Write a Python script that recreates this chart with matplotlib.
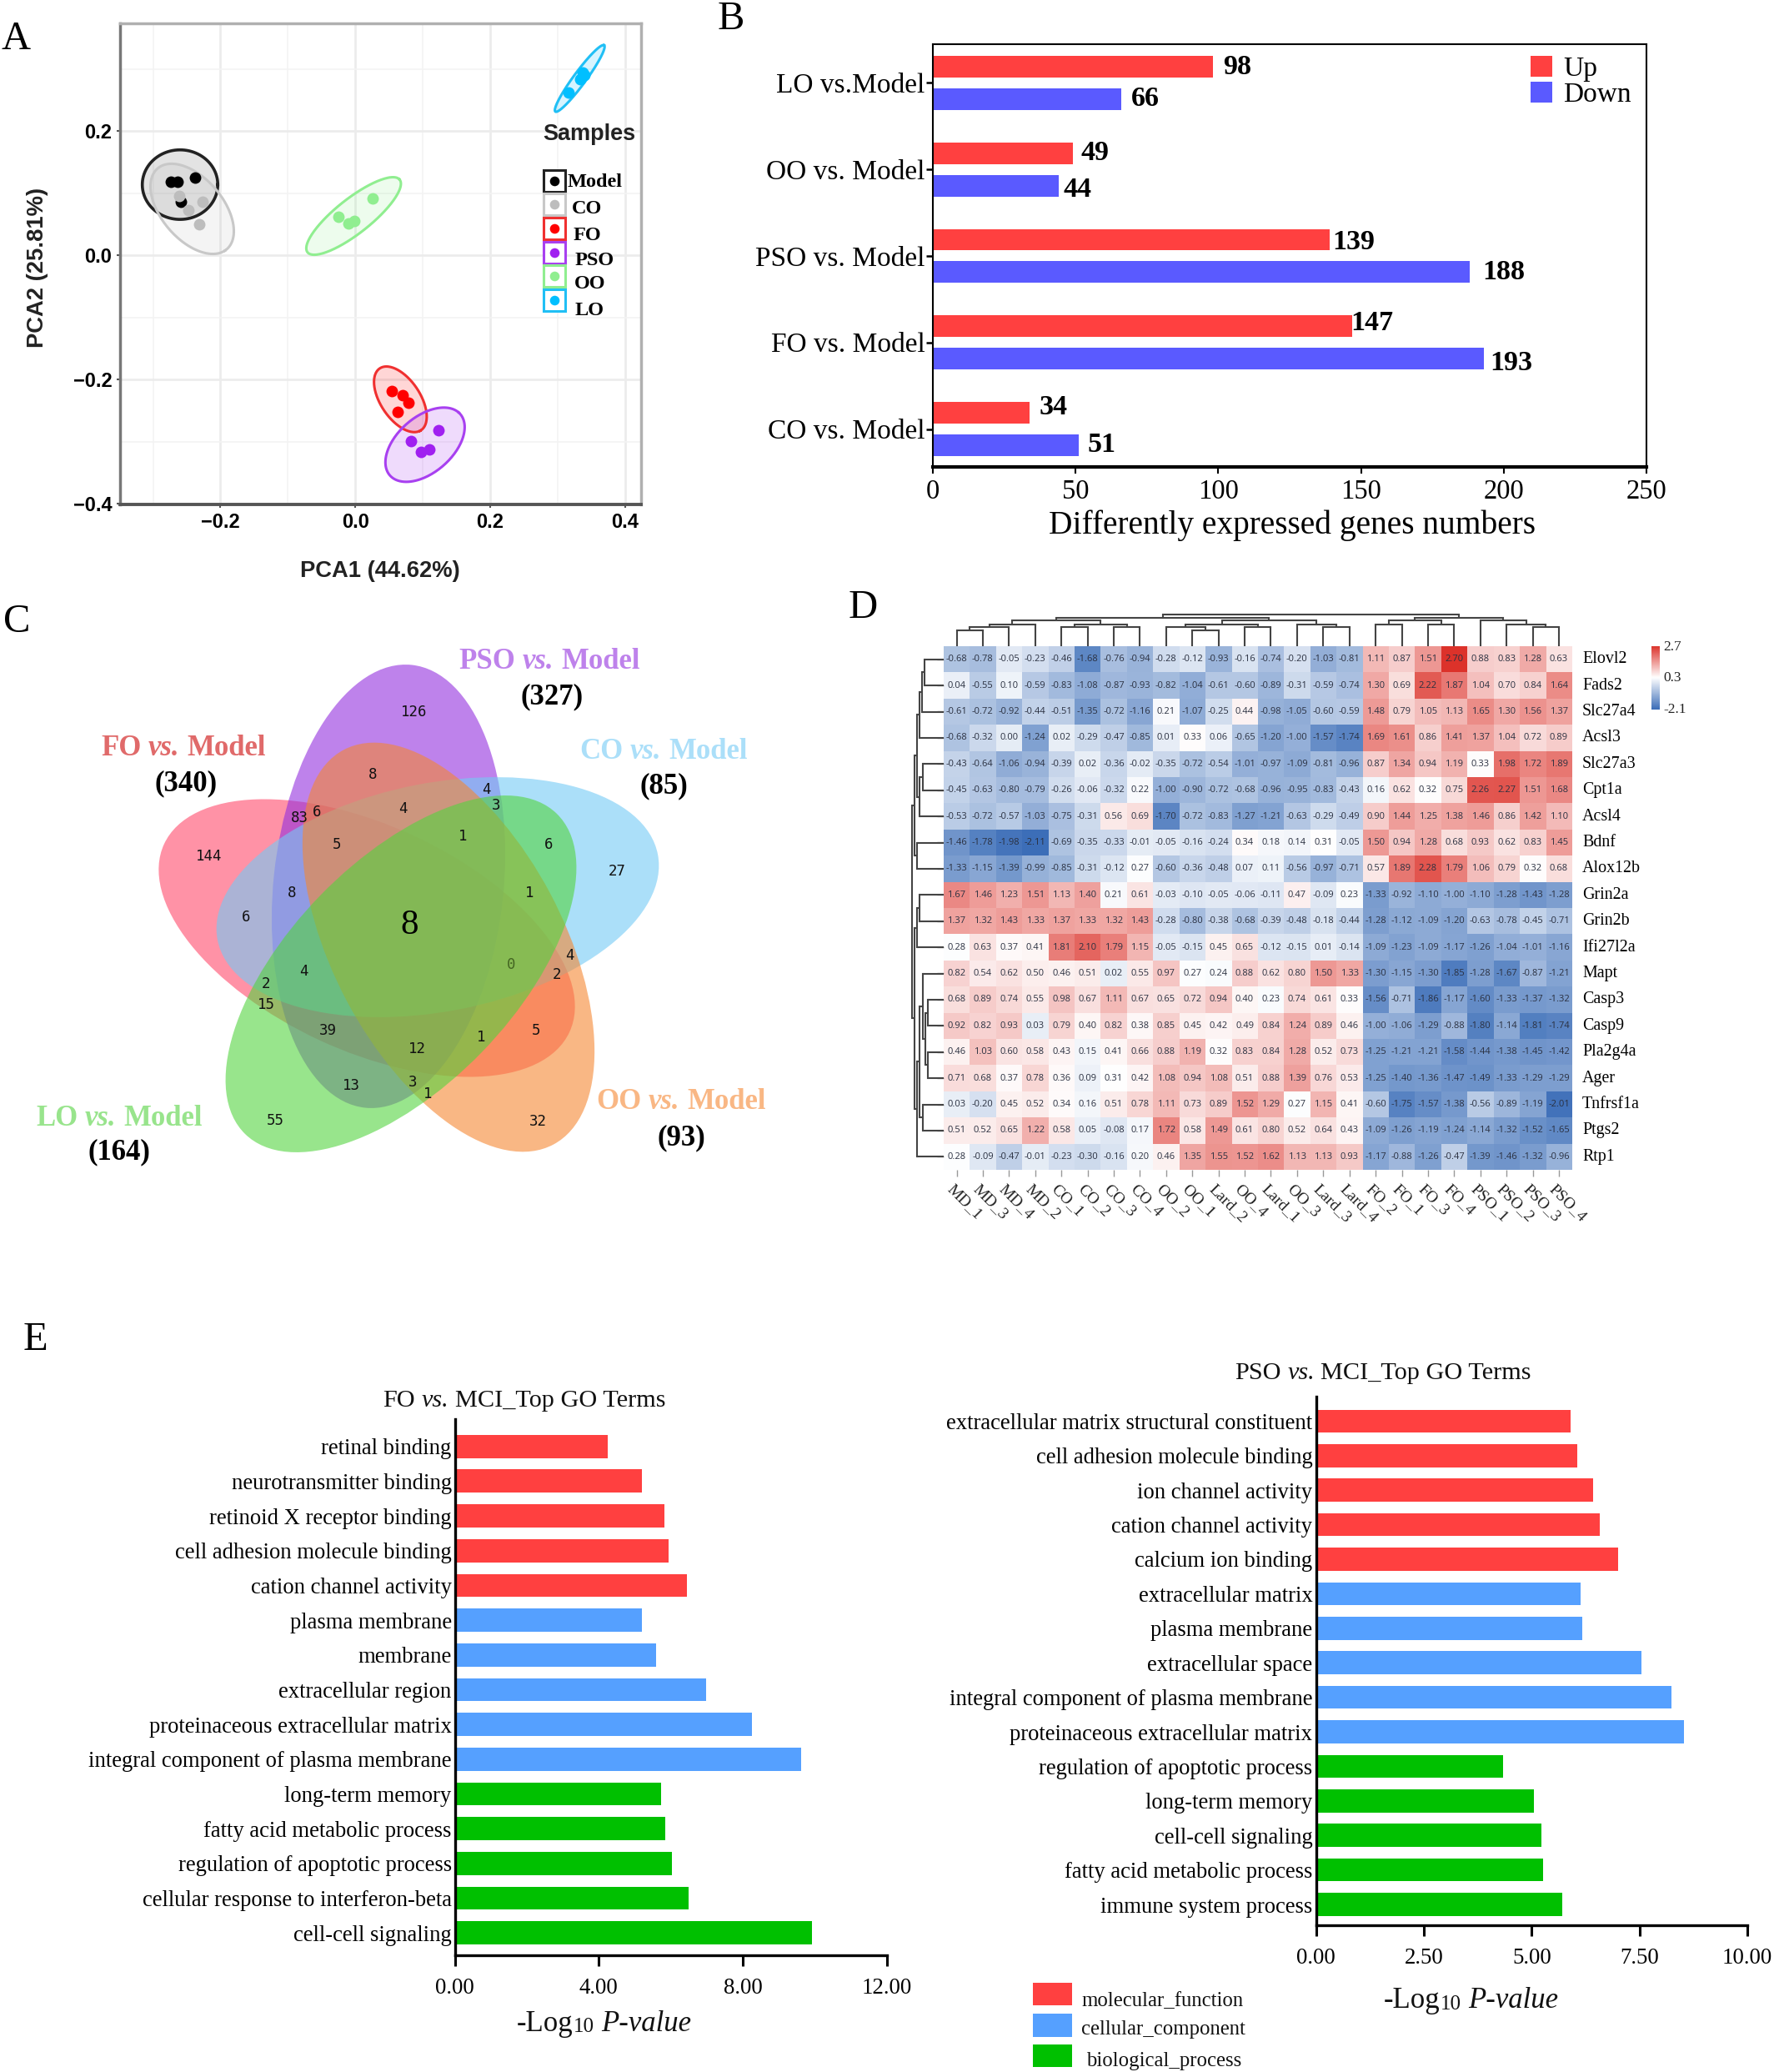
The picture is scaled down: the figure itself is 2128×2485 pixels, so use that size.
import numpy as np
import matplotlib
matplotlib.use("Agg")
import matplotlib.pyplot as plt
from matplotlib.colors import LinearSegmentedColormap, Normalize
from matplotlib.patches import Ellipse, Rectangle

W, H = 2128, 2485
SERIF = "Liberation Serif"
SANS = "Liberation Sans"
plt.rcParams["font.family"] = SERIF

# ---------- Panel A data ----------
pca_groups = ["Model", "CO", "FO", "PSO", "OO", "LO"]
pca_x = {
    "Model": [-0.273, -0.264, -0.238, -0.259],
    "CO": [-0.261, -0.226, -0.248, -0.231],
    "FO": [0.054, 0.070, 0.079, 0.063],
    "PSO": [0.083, 0.098, 0.110, 0.123],
    "OO": [-0.025, -0.010, -0.002, 0.026],
    "LO": [0.316, 0.334, 0.338, 0.340],
}
pca_y = {
    "Model": [0.119, 0.119, 0.125, 0.087],
    "CO": [0.096, 0.087, 0.073, 0.050],
    "FO": [-0.218, -0.225, -0.237, -0.252],
    "PSO": [-0.299, -0.317, -0.312, -0.281],
    "OO": [0.062, 0.052, 0.056, 0.092],
    "LO": [0.262, 0.284, 0.294, 0.290],
}
pca_colors = {"Model": "#000000", "CO": "#BDBDBD", "FO": "#FF0000",
              "PSO": "#A020F0", "OO": "#90EE90", "LO": "#00BFFF"}
pca_edge = {"Model": "#222222", "CO": "#C8C8C8", "FO": "#F03030",
            "PSO": "#A840F0", "OO": "#90EE90", "LO": "#20BFF5"}
# ellipse: centre x, centre y, semi-major, semi-minor, angle (deg in data space)
pca_ell = {
    "CO": (-0.242, 0.075, 0.083, 0.047, -54),
    "Model": (-0.260, 0.114, 0.056, 0.056, 0),
    "OO": (-0.0025, 0.0635, 0.090, 0.027, 41),
    "LO": (0.333, 0.285, 0.0645, 0.0095, 56),
    "FO": (0.0669, -0.2317, 0.0585, 0.030, -60),
    "PSO": (0.1035, -0.3048, 0.072, 0.043, 46),
}

# ---------- Panel B data ----------
deg_cats = ["CO vs. Model", "FO vs. Model", "PSO vs. Model", "OO vs. Model", "LO vs.Model"]
deg_up = [34, 147, 139, 49, 98]
deg_down = [51, 193, 188, 44, 66]
deg_up_dx = [3.4, -0.6, 1.0, 2.7, 3.7]
deg_up_dy = [0.06, 0.04, -0.03, 0.0, -0.01]
deg_down_dx = [3.2, 2.2, 4.4, 1.7, 3.5]
deg_down_dy = [0.0, -0.05, 0.0, -0.05, 0.0]

# ---------- Panel C data ----------
venn_names = ["FO", "PSO", "CO", "OO", "LO"]
venn_cx = [440, 466, 525, 538, 481]
venn_cy = [1125, 1063, 1076, 1136, 1168]
venn_a = [268, 267, 269, 268, 268]
venn_b = [135, 138, 137, 138, 135]
venn_angle = [-24.9, 84, 11, -62, 45.8]
venn_colors = ["#FF496B", "#932FDE", "#73CAF5", "#F58732", "#53D43F"]
venn_counts = ["126", "8", "4", "3", "6", "83", "4", "1", "5", "6", "27", "144", "8", "1", "6",
               "4", "0", "4", "2", "2", "15", "39", "5", "1", "12", "13", "3", "1", "55", "32"]
venn_zx = [680, 583, 850, 873, 451, 410, 654, 795, 498, 996, 1157, 197, 392, 951, 285,
           421, 909, 1045, 1015, 332, 333, 478, 966, 838, 688, 532, 677, 712, 353, 972]
venn_zy = [224, 406, 450, 498, 517, 535, 507, 588, 612, 612, 690, 648, 754, 754, 825,
           985, 966, 938, 995, 1022, 1083, 1160, 1160, 1178, 1214, 1320, 1312, 1345, 1425, 1426]
venn_labels = [("FO", "(340)", 220, 895, 223, 937, "#E06A6A"),
               ("PSO", "(327)", 659, 790, 662, 833, "#BE82EB"),
               ("CO", "(85)", 796, 898, 796, 940, "#ABDFF9"),
               ("LO", "(164)", 143, 1338, 143, 1379, "#98E48C"),
               ("OO", "(93)", 817, 1319, 817, 1362, "#F9B784")]

# ---------- Panel D data ----------
genes = ["Elovl2", "Fads2", "Slc27a4", "Acsl3", "Slc27a3", "Cpt1a", "Acsl4", "Bdnf", "Alox12b", "Grin2a",
         "Grin2b", "Ifi27l2a", "Mapt", "Casp3", "Casp9", "Pla2g4a", "Ager", "Tnfrsf1a", "Ptgs2", "Rtp1"]
samples = ["MD_1", "MD_3", "MD_4", "MD_2", "CO_1", "CO_2", "CO_3", "CO_4",
           "OO_2", "OO_1", "Lard_2", "OO_4", "Lard_1", "OO_3", "Lard_3", "Lard_4",
           "FO_2", "FO_1", "FO_3", "FO_4", "PSO_1", "PSO_2", "PSO_3", "PSO_4"]
expr = np.array([
 [-0.68,-0.78,-0.05,-0.23,-0.46,-1.68,-0.76,-0.94,-0.28,-0.12,-0.93,-0.16,-0.74,-0.20,-1.03,-0.81,1.11,0.87,1.51,2.70,0.88,0.83,1.28,0.63],
 [0.04,-0.55,0.10,-0.59,-0.83,-1.08,-0.87,-0.93,-0.82,-1.04,-0.61,-0.60,-0.89,-0.31,-0.59,-0.74,1.30,0.69,2.22,1.87,1.04,0.70,0.84,1.64],
 [-0.61,-0.72,-0.92,-0.44,-0.51,-1.35,-0.72,-1.16,0.21,-1.07,-0.25,0.44,-0.98,-1.05,-0.60,-0.59,1.48,0.79,1.05,1.13,1.65,1.30,1.56,1.37],
 [-0.68,-0.32,0.00,-1.24,0.02,-0.29,-0.47,-0.85,0.01,0.33,0.06,-0.65,-1.20,-1.00,-1.57,-1.74,1.69,1.61,0.86,1.41,1.37,1.04,0.72,0.89],
 [-0.43,-0.64,-1.06,-0.94,-0.39,0.02,-0.36,-0.02,-0.35,-0.72,-0.54,-1.01,-0.97,-1.09,-0.81,-0.96,0.87,1.34,0.94,1.19,0.33,1.98,1.72,1.89],
 [-0.45,-0.63,-0.80,-0.79,-0.26,-0.06,-0.32,0.22,-1.00,-0.90,-0.72,-0.68,-0.96,-0.95,-0.83,-0.43,0.16,0.62,0.32,0.75,2.26,2.27,1.51,1.68],
 [-0.53,-0.72,-0.57,-1.03,-0.75,-0.31,0.56,0.69,-1.70,-0.72,-0.83,-1.27,-1.21,-0.63,-0.29,-0.49,0.90,1.44,1.25,1.38,1.46,0.86,1.42,1.10],
 [-1.46,-1.78,-1.98,-2.11,-0.69,-0.35,-0.33,-0.01,-0.05,-0.16,-0.24,0.34,0.18,0.14,0.31,-0.05,1.50,0.94,1.28,0.68,0.93,0.62,0.83,1.45],
 [-1.33,-1.15,-1.39,-0.99,-0.85,-0.31,-0.12,0.27,-0.60,-0.36,-0.48,0.07,0.11,-0.56,-0.97,-0.71,0.57,1.89,2.28,1.79,1.06,0.79,0.32,0.68],
 [1.67,1.46,1.23,1.51,1.13,1.40,0.21,0.61,-0.03,-0.10,-0.05,-0.06,-0.11,0.47,-0.09,0.23,-1.33,-0.92,-1.10,-1.00,-1.10,-1.28,-1.43,-1.28],
 [1.37,1.32,1.43,1.33,1.37,1.33,1.32,1.43,-0.28,-0.80,-0.38,-0.68,-0.39,-0.48,-0.18,-0.44,-1.28,-1.12,-1.09,-1.20,-0.63,-0.78,-0.45,-0.71],
 [0.28,0.63,0.37,0.41,1.81,2.10,1.79,1.15,-0.05,-0.15,0.45,0.65,-0.12,-0.15,0.01,-0.14,-1.09,-1.23,-1.09,-1.17,-1.26,-1.04,-1.01,-1.16],
 [0.82,0.54,0.62,0.50,0.46,0.51,0.02,0.55,0.97,0.27,0.24,0.88,0.62,0.80,1.50,1.33,-1.30,-1.15,-1.30,-1.85,-1.28,-1.67,-0.87,-1.21],
 [0.68,0.89,0.74,0.55,0.98,0.67,1.11,0.67,0.65,0.72,0.94,0.40,0.23,0.74,0.61,0.33,-1.56,-0.71,-1.86,-1.17,-1.60,-1.33,-1.37,-1.32],
 [0.92,0.82,0.93,0.03,0.79,0.40,0.82,0.38,0.85,0.45,0.42,0.49,0.84,1.24,0.89,0.46,-1.00,-1.06,-1.29,-0.88,-1.80,-1.14,-1.81,-1.74],
 [0.46,1.03,0.60,0.58,0.43,0.15,0.41,0.66,0.88,1.19,0.32,0.83,0.84,1.28,0.52,0.73,-1.25,-1.21,-1.21,-1.58,-1.44,-1.38,-1.45,-1.42],
 [0.71,0.68,0.37,0.78,0.36,0.09,0.31,0.42,1.08,0.94,1.08,0.51,0.88,1.39,0.76,0.53,-1.25,-1.40,-1.36,-1.47,-1.49,-1.33,-1.29,-1.29],
 [0.03,-0.20,0.45,0.52,0.34,0.16,0.51,0.78,1.11,0.73,0.89,1.52,1.29,0.27,1.15,0.41,-0.60,-1.75,-1.57,-1.38,-0.56,-0.89,-1.19,-2.01],
 [0.51,0.52,0.65,1.22,0.58,0.05,-0.08,0.17,1.72,0.58,1.49,0.61,0.80,0.52,0.64,0.43,-1.09,-1.26,-1.19,-1.24,-1.14,-1.32,-1.52,-1.65],
 [0.28,-0.09,-0.47,-0.01,-0.23,-0.30,-0.16,0.20,0.46,1.35,1.55,1.52,1.62,1.13,1.13,0.93,-1.17,-0.88,-1.26,-0.47,-1.39,-1.46,-1.32,-0.96],
])
# dendrogram merges: (node a, node b, height); leaves are 0..n-1, internal nodes n, n+1, ...
col_tree = [(0,1,19),(24,2,22.7),(25,3,26.3),(4,5,22.7),(6,7,22.7),(27,28,26.3),(26,29,30.7),
            (9,10,19),(8,31,22.7),(11,12,22.7),(32,33,26.3),(14,15,22.7),(13,35,26.3),(34,36,30.7),
            (30,37,34.3),(16,17,26.3),(18,19,26.3),(39,40,30.7),(22,23,22.7),(21,42,26.3),(20,43,30.7),
            (41,44,34.3),(38,45,38.3)]
row_tree = [(0,1,22.9),(20,2,25.7),(21,3,28.6),(4,5,25),(23,6,28.6),(22,24,31.8),(7,8,31.8),(25,26,34.6),
            (9,10,28.6),(28,11,31.8),(13,14,19.3),(15,16,19.3),(30,31,22),(12,32,25),(17,18,25),(33,34,28.6),
            (35,19,31.8),(29,36,34.6),(27,37,37.5)]

# ---------- Panel E data ----------
go_colors = ["#FF4040"] * 5 + ["#55A0FF"] * 5 + ["#00C000"] * 5
fo_terms = ["retinal binding", "neurotransmitter binding", "retinoid X receptor binding",
            "cell adhesion molecule binding", "cation channel activity", "plasma membrane", "membrane",
            "extracellular region", "proteinaceous extracellular matrix", "integral component of plasma membrane",
            "long-term memory", "fatty acid metabolic process", "regulation of apoptotic process",
            "cellular response to interferon-beta", "cell-cell signaling"]
fo_vals = [4.24, 5.19, 5.82, 5.93, 6.46, 5.19, 5.59, 6.99, 8.26, 9.63, 5.74, 5.84, 6.02, 6.49, 9.92]
pso_terms = ["extracellular matrix structural constituent", "cell adhesion molecule binding", "ion channel activity",
             "cation channel activity", "calcium ion binding", "extracellular matrix", "plasma membrane",
             "extracellular space", "integral component of plasma membrane", "proteinaceous extracellular matrix",
             "regulation of apoptotic process", "long-term memory", "cell-cell signaling",
             "fatty acid metabolic process", "immune system process"]
pso_vals = [5.91, 6.06, 6.43, 6.58, 7.00, 6.13, 6.18, 7.54, 8.25, 8.53, 4.33, 5.06, 5.23, 5.26, 5.72]
go_legend = ["molecular_function", "cellular_component", "biological_process"]
go_legend_colors = ["#FF4040", "#55A0FF", "#00C000"]

# ---------- helpers ----------
fig = plt.figure(figsize=(W / 100, H / 100), dpi=100, facecolor="white")


def axpx(l, t, r, b, **kw):
    return fig.add_axes([l / W, 1 - b / H, (r - l) / W, (b - t) / H], **kw)


ov = fig.add_axes([0, 0, 1, 1], zorder=10)
ov.set_xlim(0, W)
ov.set_ylim(H, 0)
ov.axis("off")
ov.patch.set_alpha(0)
renderer = fig.canvas.get_renderer()


def rich(x, y, pieces, gap=0.25, ha="center", **common):
    """Consecutive text runs on a line; pieces are (string, kwargs)."""
    ts, ws = [], []
    for s, kw in pieces:
        k = dict(common)
        k.update(kw)
        t = ov.text(0, y, s, ha="left", va="center", **k)
        ts.append(t)
        ws.append(t.get_window_extent(renderer).width)
    size = common.get("fontsize", 20) * 100 / 72
    total = sum(ws) + gap * size * (len(ws) - 1)
    cur = x - total / 2 if ha == "center" else x
    for t, w in zip(ts, ws):
        t.set_x(cur)
        cur += w + gap * size


for letter, lx, ly in [("A", 19, 44), ("B", 877, 20), ("C", 20, 743), ("D", 1035, 726), ("E", 42, 1604)]:
    ov.text(lx, ly, letter, fontsize=35, ha="center", va="center", color="black")

# ---------- Panel A ----------
a = axpx(144, 28, 769, 605)
a.set_xlim(-0.349, 0.424)
a.set_ylim(-0.401, 0.3737)
a.set_xticks([-0.2, 0.0, 0.2, 0.4])
a.set_xticks([-0.3, -0.1, 0.1, 0.3], minor=True)
a.set_yticks([-0.4, -0.2, 0.0, 0.2])
a.set_yticks([-0.3, -0.1, 0.1, 0.3], minor=True)
a.grid(True, which="major", color="#ECECEC", lw=2.0)
a.grid(True, which="minor", color="#F3F3F3", lw=1.2)
a.set_axisbelow(True)
a.tick_params(which="minor", length=0)
a.tick_params(which="major", length=3, width=1.5, color="#555555", pad=4)
for lab in a.get_xticklabels() + a.get_yticklabels():
    lab.set_fontfamily(SANS)
    lab.set_fontweight("bold")
    lab.set_fontsize(17)
for side, col, lw in [("top", "#B0B0B0", 2.5), ("right", "#B0B0B0", 2.5), ("left", "#777777", 2.5), ("bottom", "#555555", 2.8)]:
    a.spines[side].set_color(col)
    a.spines[side].set_linewidth(lw)
t_par = np.linspace(0, 2 * np.pi, 200)
for g in ["Model", "CO", "OO", "LO", "FO", "PSO"]:
    cx, cy, sa, sb, ang = pca_ell[g]
    th = np.deg2rad(ang)
    ex = cx + sa * np.cos(t_par) * np.cos(th) - sb * np.sin(t_par) * np.sin(th)
    ey = cy + sa * np.cos(t_par) * np.sin(th) + sb * np.sin(t_par) * np.cos(th)
    a.fill(ex, ey, color=pca_colors[g], alpha=0.11 if g == "Model" else 0.16, lw=0)
    a.plot(ex, ey, color=pca_edge[g], lw=2.6 if g == "Model" else 2.2)
for g in pca_groups:
    a.scatter(pca_x[g], pca_y[g], s=100, color=pca_colors[g], zorder=5, lw=0)
ov.text(456, 682, "PCA1 (44.62%)", fontfamily=SANS, fontweight="bold", fontsize=19.7, ha="center", va="center", color="#222222")
ov.text(45, 318, "PCA2 (25.81%)", fontfamily=SANS, fontweight="bold", fontsize=19.7, ha="center", va="center", rotation=90, color="#222222")
ov.text(707, 158, "Samples", fontfamily=SANS, fontweight="bold", fontsize=19.5, ha="center", va="center", color="#222222")
key_y = [216.5, 245, 274, 303, 331, 360]
lab_x = [681, 686, 687.5, 689.5, 688.5, 690]
lab_y = [215.6, 248, 280, 309, 337, 369.6]
for g, ky, lx, ly in zip(pca_groups, key_y, lab_x, lab_y):
    ov.add_patch(Rectangle((652, ky - 13), 26, 26, fc="white", ec=pca_edge[g], lw=2.2))
    ov.scatter([665], [ky], s=70, color=pca_colors[g], lw=0, zorder=12)
    ov.text(lx, ly, g, fontweight="bold", fontsize=17.5, ha="left", va="center", color="black")

# ---------- Panel B ----------
b = axpx(1119, 52.6, 1975, 560)
ypos = np.arange(len(deg_cats))
b.barh(ypos + 0.187, deg_up, height=0.25, color="#FF4040")
b.barh(ypos - 0.187, deg_down, height=0.25, color="#5A5AFF")
b.set_xlim(0, 250)
b.set_ylim(-0.438, 4.45)
b.set_yticks(ypos)
b.set_yticklabels(deg_cats, fontsize=24)
b.set_xticks([0, 50, 100, 150, 200, 250])
b.tick_params(axis="x", labelsize=23.5, length=6, width=1.5, pad=4.5)
b.tick_params(axis="y", length=6, width=1.8, pad=1)
for s in b.spines.values():
    s.set_linewidth(1.5)
b.spines["bottom"].set_linewidth(3)
for i in ypos:
    b.text(deg_up[i] + deg_up_dx[i], i + 0.187 + deg_up_dy[i], str(deg_up[i]), fontweight="bold", fontsize=24.5, va="center", ha="left")
    b.text(deg_down[i] + deg_down_dx[i], i - 0.187 + deg_down_dy[i], str(deg_down[i]), fontweight="bold", fontsize=24.5, va="center", ha="left")
ov.text(1550, 627, "Differently expressed genes numbers", fontsize=28.4, ha="center", va="center")
for lab, col, y0 in [("Up", "#FF4040", 67), ("Down", "#5A5AFF", 98)]:
    ov.add_patch(Rectangle((1836, y0), 26, 25, fc=col, ec="none"))
    ov.text(1875, y0 + 13, lab, fontsize=24, ha="left", va="center")

# ---------- Panel C ----------
for cx, cy, sa, sb, ang, col in zip(venn_cx, venn_cy, venn_a, venn_b, venn_angle, venn_colors):
    # overlay y points down, so a counter-clockwise screen angle is a negative Ellipse angle
    ov.add_patch(Ellipse((cx, cy), 2 * sa, 2 * sb, angle=-ang, fc=col, ec="none", alpha=0.6))
for s, zx, zy in zip(venn_counts, venn_zx, venn_zy):
    ov.text(150 + 0.51 * zx, 760 + 0.408 * zy, s, fontfamily="DejaVu Sans Mono", fontsize=12.5,
            ha="center", va="center", color="#111111" if s != "0" else "#446622")
ov.text(150 + 0.51 * 668, 760 + 0.408 * 850, "8", fontsize=31, ha="center", va="center", color="black")
for name, n, x1, y1, x2, y2, col in venn_labels:
    rich(x1, y1, [(name, dict(fontweight="bold")), ("vs.", dict(fontweight="bold", fontstyle="italic")), ("Model", dict(fontweight="bold"))],
         fontsize=25, color=col)
    ov.text(x2, y2, n, fontweight="bold", fontsize=25, ha="center", va="center", color="black")

# ---------- Panel D ----------
hl, ht, hr, hb = 1131.8, 775, 1885.7, 1403
cmap = LinearSegmentedColormap.from_list("hm", [(0, "#3C6EB8"), (0.5, "#FFFFFF"), (1, "#DC322A")])
norm = Normalize(-2.1, 2.7)
d = axpx(hl, ht, hr, hb)
d.imshow(expr, cmap=cmap, norm=norm, aspect="auto", interpolation="nearest")
nr, nc = expr.shape
for r in range(nr):
    for c in range(nc):
        d.text(c, r, f"{expr[r, c]:.2f}", fontfamily="Open Sans", fontsize=8, ha="center", va="center", color="#2A3040")
d.set_xticks(np.arange(nc))
d.set_xticklabels([])
d.set_yticks(np.arange(nr))
d.set_yticklabels([])
d.tick_params(length=6, width=1, color="#999999")
for s in d.spines.values():
    s.set_visible(False)
cw, ch = (hr - hl) / nc, (hb - ht) / nr
for i, g in enumerate(genes):
    ov.text(1898, ht + ch * (i + 0.5) - 3, g, fontsize=14.4, ha="left", va="center")
for i, s in enumerate(samples):
    ov.text(hl + cw * (i + 0.5) - 9, 1420, s, fontsize=14, rotation=-45, rotation_mode="anchor",
            ha="left", va="center", color="#222222")


def dendro(tree, n, horizontal):
    pos = {i: (i + 0.5) for i in range(n)}
    hgt = {i: 0.0 for i in range(n)}
    nxt = n
    for p, q, h in tree:
        for node in (p, q):
            if horizontal:
                xs = [hl - hgt[node], hl - h]
                ys = [ht + ch * pos[node]] * 2
            else:
                xs = [hl + cw * pos[node]] * 2
                ys = [ht - hgt[node], ht - h]
            ov.plot(xs, ys, color="#444444", lw=1.5, solid_capstyle="butt")
        if horizontal:
            ov.plot([hl - h, hl - h], [ht + ch * pos[p], ht + ch * pos[q]], color="#444444", lw=1.5)
        else:
            ov.plot([hl + cw * pos[p], hl + cw * pos[q]], [ht - h, ht - h], color="#444444", lw=1.5)
        pos[nxt] = (pos[p] + pos[q]) / 2
        hgt[nxt] = h
        nxt += 1


dendro(col_tree, nc, False)
dendro(row_tree, nr, True)
cb = axpx(1981, 775, 1991, 851)
cb.imshow(np.linspace(2.7, -2.1, 100)[:, None], cmap=cmap, norm=norm, aspect="auto")
cb.axis("off")
for v, yy in [("2.7", 773), ("0.3", 810), ("-2.1", 848)]:
    ov.text(1995, yy, v, fontsize=12.5, ha="left", va="center", color="#222222")


# ---------- Panel E ----------
def go_panel(rect, terms, vals, xlim, xticks, xtl, ylim):
    ax = axpx(*rect)
    y = np.arange(len(terms))[::-1]
    ax.barh(y, vals, height=0.665, color=go_colors)
    ax.set_xlim(*xlim)
    ax.set_ylim(*ylim)
    ax.set_yticks(y)
    ax.set_yticklabels(terms, fontsize=19.2)
    ax.set_xticks(xticks)
    ax.set_xticklabels(xtl, fontsize=19.4)
    ax.tick_params(axis="y", length=0, pad=3)
    ax.tick_params(axis="x", length=9, width=2.2, pad=10.5)
    ax.spines["top"].set_visible(False)
    ax.spines["right"].set_visible(False)
    ax.spines["left"].set_linewidth(2.4)
    ax.spines["bottom"].set_linewidth(2.4)
    return ax


go_panel((545.8, 1701.6, 1063.5, 2344.7), fo_terms, fo_vals, (0, 12), [0, 4, 8, 12],
         ["0.00", "4.00", "8.00", "12.00"], (-0.637, 14.793))
go_panel((1578.6, 1675, 2095.9, 2308.9), pso_terms, pso_vals, (0, 10), [0, 2.5, 5, 7.5, 10],
         ["0.00", "2.50", "5.00", "7.50", "10.00"], (-0.6, 14.709))


def title_vs(x, y, first):
    rich(x, y, [(first, {}), ("vs.", dict(fontstyle="italic")), ("MCI_Top GO Terms", {})], fontsize=21.8, color="#111111")


title_vs(629, 1677, "FO")
title_vs(1659, 1644, "PSO")


def log_label(x, y):
    fs = 25
    pieces = [("-Log", dict(fontsize=fs)), ("10", dict(fontsize=fs * 0.72)), ("P-value", dict(fontsize=fs, fontstyle="italic"))]
    ts, ws = [], []
    for s, k in pieces:
        t = ov.text(0, y, s, ha="left", va="center", color="#111111", **k)
        ts.append(t)
        ws.append(t.get_window_extent(renderer).width)
    gaps = [0, 0.25 * fs * 100 / 72, 0]
    cur = x - (sum(ws) + sum(gaps)) / 2
    for t, w, g in zip(ts, ws, gaps):
        t.set_x(cur)
        cur += w + g
    ts[1].set_y(y + 4)


log_label(724.7, 2424)
log_label(1764.5, 2397)
for lab, col, y0, y1, ty, tx in zip(go_legend, go_legend_colors, [2378, 2415, 2452], [2405, 2443, 2479],
                                    [2397, 2431, 2469], [1297, 1297, 1302.6]):
    ov.add_patch(Rectangle((1239, y0), 46.5, y1 - y0, fc=col, ec="none"))
    ov.text(tx, ty, lab, fontsize=17.8, ha="left", va="center", color="#111111")

# the centred text boxes sit a little high against the reference: nudge every overlay label down
for t in ov.texts:
    x0, y0 = t.get_position()
    t.set_y(y0 + 3)

fig.savefig("out.png", dpi=100, facecolor="white")
